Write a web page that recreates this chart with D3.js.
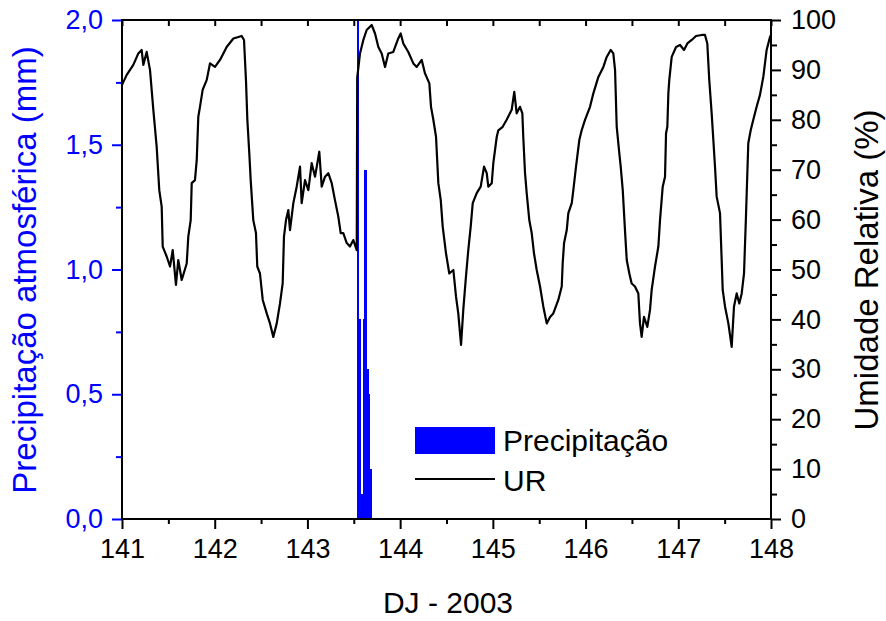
<!DOCTYPE html>
<html><head><meta charset="utf-8">
<script src="https://cdn.jsdelivr.net/npm/d3@7"></script>
<style>body{margin:0;background:#fff}svg{display:block}text{font-family:"Liberation Sans",Arial,sans-serif}</style>
</head><body>
<script>
// ---- data ----
const xTicks = [141,142,143,144,145,146,147,148];
const xMinor = [141.5,142.5,143.5,144.5,145.5,146.5,147.5];
const precipTicks = [0,0.5,1,1.5,2];
const precipMinor = [0.25,0.75,1.25,1.75];
const urTicks = [0,10,20,30,40,50,60,70,80,90,100];
const urMinor = [5,15,25,35,45,55,65,75,85,95];
const precipStep = 0.0208;
const precipDay = [143.531,143.552,143.573,143.594,143.614,143.635,143.656,143.677];
const precipValue = [2.0,0.8,0.1,0.8,1.4,0.6,0.5,0.2];
const urDay = [141.000,141.051,141.122,141.176,141.212,141.230,141.266,141.302,141.338,141.374,141.402,141.428,141.439,141.482,141.518,141.547,141.582,141.607,141.644,141.698,141.715,141.741,141.752,141.787,141.806,141.823,141.841,141.870,141.914,141.949,142.003,142.057,142.129,142.201,142.291,142.316,142.337,142.352,142.373,142.388,142.416,142.445,142.459,142.488,142.518,142.561,142.596,142.632,142.669,142.704,142.733,142.747,142.769,142.794,142.812,142.848,142.884,142.920,142.938,142.974,143.010,143.046,143.082,143.128,143.154,143.190,143.225,143.262,143.297,143.333,143.359,143.387,143.424,143.459,143.495,143.532,143.537,143.567,143.603,143.639,143.693,143.729,143.765,143.801,143.837,143.872,143.926,143.980,144.006,144.034,144.088,144.142,144.179,144.233,144.268,144.315,144.333,144.358,144.387,144.412,144.438,144.459,144.495,144.530,144.574,144.603,144.627,144.657,144.681,144.710,144.735,144.761,144.783,144.826,144.869,144.905,144.934,144.951,144.988,145.005,145.042,145.059,145.106,145.149,145.203,145.231,145.257,145.293,145.318,145.328,145.347,145.365,145.393,145.419,145.444,145.473,145.509,145.544,145.581,145.617,145.652,145.706,145.743,145.753,145.768,145.797,145.814,145.851,145.868,145.897,145.933,145.958,145.994,146.048,146.084,146.138,146.192,146.228,146.271,146.299,146.318,146.336,146.364,146.379,146.401,146.425,146.444,146.472,146.497,146.533,146.569,146.587,146.605,146.630,146.666,146.695,146.713,146.749,146.785,146.803,146.832,146.857,146.868,146.882,146.893,146.903,146.929,146.976,147.019,147.062,147.098,147.145,147.191,147.253,147.288,147.313,147.334,147.360,147.378,147.396,147.414,147.450,147.468,147.479,147.504,147.540,147.576,147.601,147.630,147.658,147.684,147.709,147.730,147.755,147.781,147.809,147.845,147.881,147.917,147.953,147.989,148.000];
const urValue = [87.0,89.0,91.0,93.3,94.0,91.0,93.6,90.0,82.0,74.6,65.9,62.6,54.6,52.6,50.6,53.9,46.9,51.9,47.9,51.2,56.6,59.9,67.3,67.9,71.9,80.6,82.6,86.0,88.0,91.3,90.6,92.0,94.6,96.3,96.8,96.0,88.0,80.0,73.3,67.9,59.9,57.3,50.6,49.2,43.9,41.2,39.2,36.5,39.2,43.2,47.2,56.6,59.9,61.9,57.9,63.3,66.6,70.6,63.3,67.9,65.9,71.3,68.6,73.6,66.6,68.6,69.3,67.3,63.9,60.6,57.3,57.3,55.3,54.6,55.9,53.9,88.4,93.3,96.0,98.0,99.0,97.3,94.6,93.3,90.6,93.3,93.6,96.3,97.3,95.3,93.6,91.3,90.6,92.0,89.3,87.3,82.6,80.0,76.6,67.3,63.9,58.6,53.2,49.2,49.9,44.5,41.2,34.9,41.9,48.6,53.9,58.6,63.3,65.3,66.6,70.6,69.3,66.6,67.3,71.3,76.6,77.9,78.6,80.0,82.0,85.6,81.3,82.6,81.3,76.6,69.3,65.3,59.9,57.3,53.2,49.9,46.6,42.6,39.2,40.5,41.2,43.9,46.6,51.2,55.3,57.9,61.3,63.3,65.9,70.6,76.0,77.9,80.0,82.6,85.3,88.6,90.6,92.6,94.0,93.3,90.0,78.6,73.3,70.6,65.9,57.9,51.9,49.2,47.2,46.6,45.2,39.2,36.5,40.5,38.5,41.9,45.9,50.6,54.6,59.9,66.6,68.6,77.3,78.6,85.3,88.0,92.6,94.6,95.0,94.0,95.3,96.0,96.8,97.0,97.0,95.3,88.0,81.3,76.0,70.6,64.6,61.3,51.9,45.9,42.6,39.2,34.5,42.6,45.2,43.2,45.2,49.2,60.6,75.3,77.9,80.0,82.6,85.0,88.6,94.0,96.6,97.0];
const legendLabels = ["Precipitação","UR"];

// ---- drawing ----
const W = 886, H = 621;
const L = 122, R = 771, T = 20, B = 519;
const BLUE = "#0000ff";
const svg = d3.select("body").append("svg").attr("width", W).attr("height", H);

const x = d3.scaleLinear().domain([141,148]).range([L,R]);
const yP = d3.scaleLinear().domain([0,2]).range([B,T]);
const yU = d3.scaleLinear().domain([0,100]).range([B,T]);

// bars
svg.append("g").attr("shape-rendering","crispEdges").selectAll("rect").data(precipDay).join("rect")
  .attr("x", d => x(d))
  .attr("width", d => x(d + precipStep) - x(d) + 0.3)
  .attr("y", (d,i) => yP(precipValue[i]))
  .attr("height", (d,i) => yP(0) - yP(precipValue[i]))
  .attr("fill", BLUE);

// UR line
const pts = urDay.map((d,i) => [d, urValue[i]]);
svg.append("path").datum(pts)
  .attr("d", d3.line().x(d => x(d[0])).y(d => yU(d[1])))
  .attr("fill","none").attr("stroke","#000").attr("stroke-width",2.2).attr("stroke-linejoin","round");

const fs = 27;
function style(g, color) {
  g.select(".domain").remove();
  g.selectAll("line").attr("stroke", color).attr("stroke-width", 2);
  g.selectAll("text").attr("fill", color).style("font-size", fs + "px").style("font-family", '"Liberation Sans", Arial, sans-serif');
}
const fmtP = d => d3.format(".1f")(d).replace(".", ",");

// bottom
style(svg.append("g").attr("transform",`translate(0,${B})`)
  .call(d3.axisBottom(x).tickValues(xTicks).tickSize(10).tickPadding(10).tickFormat(d3.format("d"))), "#000");
style(svg.append("g").attr("transform",`translate(0,${B})`)
  .call(d3.axisBottom(x).tickValues(xMinor).tickSize(5).tickFormat("")), "#000");
// top (inward)
style(svg.append("g").attr("transform",`translate(0,${T})`)
  .call(d3.axisTop(x).tickValues(xTicks.concat(xMinor)).tickSize(-6).tickFormat("")), "#000");
// left
style(svg.append("g").attr("transform",`translate(${L},0)`)
  .call(d3.axisLeft(yP).tickValues(precipTicks).tickSize(10).tickPadding(9).tickFormat(fmtP)), BLUE);
style(svg.append("g").attr("transform",`translate(${L},0)`)
  .call(d3.axisLeft(yP).tickValues(precipMinor).tickSize(6).tickFormat("")), BLUE);
// right
style(svg.append("g").attr("transform",`translate(${R},0)`)
  .call(d3.axisRight(yU).tickValues(urTicks).tickSize(10).tickPadding(10).tickFormat(d3.format("d"))), "#000");
style(svg.append("g").attr("transform",`translate(${R},0)`)
  .call(d3.axisRight(yU).tickValues(urMinor).tickSize(6).tickFormat("")), "#000");

// frame
svg.append("rect").attr("x",L).attr("y",T).attr("width",R-L).attr("height",B-T)
  .attr("fill","none").attr("stroke","#000").attr("stroke-width",2);

// titles
svg.append("text").attr("x",448).attr("y",613).attr("text-anchor","middle")
  .style("font-size","30px").attr("fill","#000").text("DJ - 2003");
svg.append("text").attr("transform",`translate(36,270) rotate(-90)`).attr("text-anchor","middle")
  .style("font-size","33px").attr("fill",BLUE).text("Precipitação atmosférica (mm)");
svg.append("text").attr("transform",`translate(878,270) rotate(-90)`).attr("text-anchor","middle")
  .style("font-size","33px").attr("fill","#000").text("Umidade Relativa (%)");

// legend
svg.append("rect").attr("x",415).attr("y",427).attr("width",80).attr("height",27).attr("fill",BLUE);
svg.append("line").attr("x1",415).attr("x2",495).attr("y1",479).attr("y2",479).attr("stroke","#000").attr("stroke-width",2);
svg.append("text").attr("x",503).attr("y",451).style("font-size","30px").attr("fill","#000").text(legendLabels[0]);
svg.append("text").attr("x",503).attr("y",491).style("font-size","30px").attr("fill","#000").text(legendLabels[1]);
</script>
</body></html>
